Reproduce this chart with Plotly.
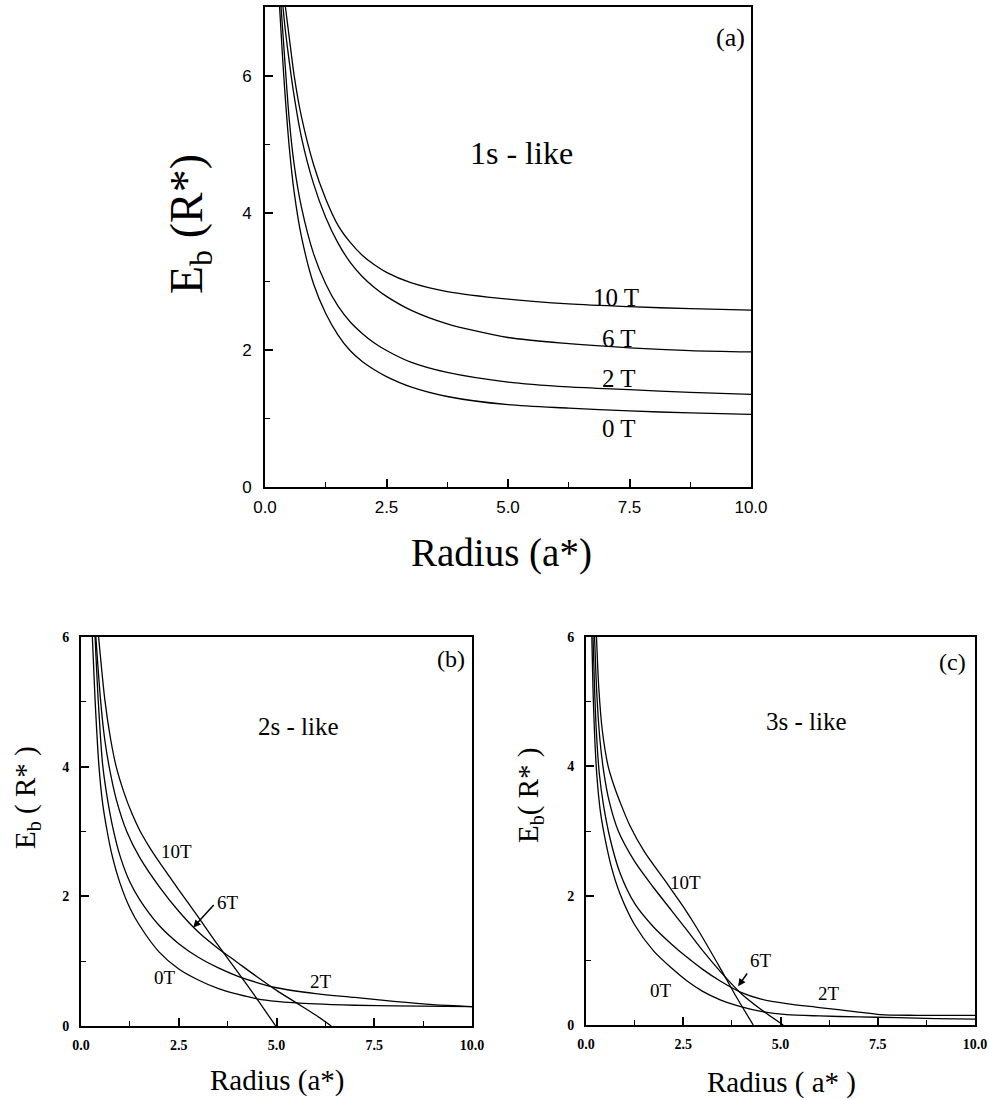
import plotly.graph_objects as go

# ---------------- Panel (a): 1s-like ----------------
a0_x = [0.3, 0.35, 0.4, 0.5, 0.6, 0.75, 1.0, 1.25, 1.5, 1.75, 2.0, 2.25, 2.5, 3.0, 3.75, 5.0, 6.25, 7.5, 8.75, 10.0]
a0_y = [7.0, 6.4, 5.85, 4.95, 4.3, 3.65, 2.96, 2.53, 2.22, 1.99, 1.83, 1.71, 1.61, 1.46, 1.32, 1.2, 1.15, 1.11, 1.08, 1.06]
a2_x = [0.33, 0.38, 0.44, 0.5, 0.6, 0.75, 1.0, 1.25, 1.5, 1.75, 2.0, 2.25, 2.5, 3.0, 3.75, 5.0, 6.25, 7.5, 8.75, 10.0]
a2_y = [7.0, 6.5, 5.9, 5.35, 4.7, 4.08, 3.4, 2.96, 2.64, 2.41, 2.24, 2.1, 1.99, 1.82, 1.67, 1.53, 1.46, 1.42, 1.38, 1.35]
a6_x = [0.37, 0.42, 0.5, 0.6, 0.75, 1.0, 1.25, 1.5, 1.75, 2.0, 2.25, 2.5, 3.0, 3.75, 5.0, 6.25, 7.5, 8.75, 10.0]
a6_y = [7.0, 6.65, 6.2, 5.7, 5.1, 4.42, 3.93, 3.56, 3.28, 3.07, 2.91, 2.78, 2.58, 2.38, 2.18, 2.09, 2.03, 1.99, 1.97]
a10_x = [0.42, 0.5, 0.6, 0.75, 1.0, 1.25, 1.5, 1.75, 2.0, 2.25, 2.5, 3.0, 3.75, 5.0, 6.25, 7.5, 8.75, 10.0]
a10_y = [7.0, 6.55, 6.0, 5.4, 4.7, 4.2, 3.82, 3.57, 3.38, 3.24, 3.13, 2.98, 2.85, 2.74, 2.67, 2.63, 2.6, 2.58]

# ---------------- Panel (b): 2s-like ----------------
b0_x = [0.29, 0.36, 0.46, 0.55, 0.67, 0.8, 1.0, 1.25, 1.5, 2.0, 2.5, 3.0, 3.5, 4.0, 4.5, 5.0, 6.0, 7.0, 8.0, 10.0]
b0_y = [6.0, 5.03, 4.0, 3.45, 3.0, 2.62, 2.2, 1.82, 1.55, 1.14, 0.88, 0.71, 0.58, 0.49, 0.42, 0.38, 0.34, 0.32, 0.31, 0.30]
b2_x = [0.36, 0.44, 0.55, 0.65, 0.8, 1.0, 1.25, 1.5, 2.0, 2.5, 3.0, 3.5, 4.0, 4.5, 5.0, 6.0, 7.0, 8.0, 9.0, 10.0]
b2_y = [6.0, 5.03, 4.05, 3.6, 3.1, 2.62, 2.22, 1.95, 1.55, 1.27, 1.06, 0.9, 0.77, 0.67, 0.59, 0.5, 0.44, 0.38, 0.33, 0.30]
b6_x = [0.38, 0.5, 0.6, 0.72, 0.9, 1.17, 1.5, 2.0, 2.5, 3.0, 3.5, 4.0, 4.5, 5.0, 5.5, 6.0, 6.4]
b6_y = [6.0, 5.03, 4.45, 4.0, 3.5, 3.0, 2.6, 2.15, 1.77, 1.45, 1.2, 0.98, 0.76, 0.55, 0.36, 0.17, 0.0]
b10_x = [0.45, 0.61, 0.75, 0.9, 1.1, 1.3, 1.5, 1.75, 2.0, 2.5, 3.0, 3.5, 4.0, 4.5, 4.98]
b10_y = [6.0, 5.03, 4.45, 4.0, 3.6, 3.28, 3.02, 2.76, 2.53, 2.1, 1.68, 1.25, 0.84, 0.42, 0.0]

# ---------------- Panel (c): 3s-like ----------------
c0_x = [0.15, 0.18, 0.22, 0.28, 0.37, 0.5, 0.65, 0.874, 1.25, 1.73, 2.2, 2.6, 3.0, 3.45, 4.0, 4.5, 5.16, 6.0, 7.0, 8.0, 9.0, 10.0]
c0_y = [6.0, 5.2, 4.5, 3.85, 3.3, 2.85, 2.45, 2.03, 1.55, 1.15, 0.88, 0.68, 0.52, 0.39, 0.28, 0.21, 0.16, 0.14, 0.125, 0.115, 0.1, 0.09]
c2_x = [0.18, 0.22, 0.27, 0.34, 0.45, 0.62, 0.874, 1.25, 1.73, 2.2, 2.59, 3.0, 3.45, 4.0, 4.5, 5.16, 6.0, 7.0, 7.56, 8.5, 10.0]
c2_y = [6.0, 5.2, 4.5, 3.9, 3.4, 2.88, 2.35, 1.88, 1.52, 1.25, 1.05, 0.86, 0.68, 0.5, 0.4, 0.33, 0.27, 0.2, 0.16, 0.15, 0.15]
c6_x = [0.22, 0.28, 0.36, 0.46, 0.6, 0.83, 1.25, 1.73, 2.2, 2.59, 3.0, 3.45, 4.0, 4.5, 5.07]
c6_y = [6.0, 5.1, 4.4, 3.9, 3.45, 3.0, 2.53, 2.13, 1.77, 1.47, 1.15, 0.83, 0.48, 0.24, 0.0]
c10_x = [0.27, 0.33, 0.42, 0.57, 0.72, 0.874, 1.13, 1.5, 2.07, 2.5, 2.85, 3.45, 3.84, 4.3]
c10_y = [6.0, 5.2, 4.55, 4.0, 3.7, 3.45, 3.08, 2.68, 2.2, 1.83, 1.5, 0.88, 0.46, 0.0]

x_ticks = [0, 2.5, 5, 7.5, 10]
x_ticktext = ["0.0", "2.5", "5.0", "7.5", "10.0"]
x_minor = [1.25, 3.75, 6.25, 8.75]
y_ticks = [0, 2, 4, 6]
y_ticktext = ["0", "2", "4", "6"]
y_minor = [1, 3, 5]

SERIF = "Liberation Serif, Times New Roman, serif"
SANS = "Liberation Sans, Arial, sans-serif"

FW, FH = 991, 1099

def px(x):
    return min(1.0, max(0.0, x / FW))

def py(y):
    return min(1.0, max(0.0, 1 - y / FH))

fig = go.Figure()

def add(x, y, xa, ya):
    fig.add_trace(go.Scatter(x=x, y=y, mode="lines", xaxis=xa, yaxis=ya,
                             line=dict(color="black", width=1.3, shape="spline", smoothing=0.8),
                             showlegend=False, hoverinfo="skip"))

for xs, ys in [(a0_x, a0_y), (a2_x, a2_y), (a6_x, a6_y), (a10_x, a10_y)]:
    add(xs, ys, "x", "y")
for xs, ys in [(b0_x, b0_y), (b2_x, b2_y), (b6_x, b6_y), (b10_x, b10_y)]:
    add(xs, ys, "x2", "y2")
for xs, ys in [(c0_x, c0_y), (c2_x, c2_y), (c6_x, c6_y), (c10_x, c10_y)]:
    add(xs, ys, "x3", "y3")

def xaxis(domain, anchor, font, standoff):
    return dict(domain=domain, anchor=anchor, range=[0, 10], showline=True, linewidth=2,
                linecolor="black", mirror=True, ticks="inside", ticklen=8, tickwidth=1.5,
                tickcolor="black", tickvals=x_ticks, ticktext=x_ticktext,
                minor=dict(tickvals=x_minor, ticks="inside", ticklen=5, tickwidth=1.2,
                           tickcolor="black", showgrid=False),
                showgrid=False, zeroline=False, tickfont=font, ticklabelstandoff=standoff,
                automargin=False)

def yaxis(domain, anchor, rng, font, standoff):
    return dict(domain=domain, anchor=anchor, range=rng, showline=True, linewidth=2,
                linecolor="black", mirror=True, ticks="inside", ticklen=8, tickwidth=1.5,
                tickcolor="black", tickvals=y_ticks, ticktext=y_ticktext,
                minor=dict(tickvals=y_minor, ticks="inside", ticklen=5, tickwidth=1.2,
                           tickcolor="black", showgrid=False),
                showgrid=False, zeroline=False, tickfont=font, ticklabelstandoff=standoff,
                automargin=False)

fa = dict(family=SANS, size=17, color="black")
fb = dict(family=SERIF, size=14, color="black", weight="bold")

fig.update_layout(
    width=FW, height=FH, margin=dict(l=0, r=0, t=0, b=0, autoexpand=False),
    paper_bgcolor="white", plot_bgcolor="white",
    xaxis=xaxis([px(265), px(751)], "y", fa, 4),
    yaxis=yaxis([py(487), py(7)], "x", [0, 7], fa, 8),
    xaxis2=xaxis([px(81), px(472)], "y2", fb, 5),
    yaxis2=yaxis([py(1026), py(637)], "x2", [0, 6], fb, 7),
    xaxis3=xaxis([px(586), px(975)], "y3", fb, 5),
    yaxis3=yaxis([py(1025), py(637)], "x3", [0, 6], fb, 7),
)

ann = []
def txt(text, x, y, xr, yr, size, **kw):
    ann.append(dict(text=text, x=x, y=y, xref=xr, yref=yr, showarrow=False,
                    xanchor="center", yanchor="middle",
                    font=dict(family=SERIF, size=size, color="black"), **kw))

# panel (a) texts
txt("1s - like", 5.28, 4.87, "x", "y", 32)
txt("(a)", 9.57, 6.55, "x", "y", 26)
txt("10 T", 7.22, 2.77, "x", "y", 25)
txt("6 T", 7.29, 2.17, "x", "y", 25)
txt("2 T", 7.29, 1.58, "x", "y", 25)
txt("0 T", 7.29, 0.85, "x", "y", 25)
txt("Radius (a*)", px(501), py(553), "paper", "paper", 39)
txt("E<sub>b</sub> (R*)", px(190), py(224), "paper", "paper", 46, textangle=-90)

# panel (b) texts
txt("2s - like", 5.57, 4.62, "x2", "y2", 25)
txt("(b)", 9.46, 5.66, "x2", "y2", 24)
txt("10T", 2.45, 2.69, "x2", "y2", 19)
txt("6T", 3.77, 1.90, "x2", "y2", 19)
txt("2T", 6.14, 0.68, "x2", "y2", 19)
txt("0T", 2.16, 0.75, "x2", "y2", 19)
txt("Radius (a*)", px(277), py(1080), "paper", "paper", 29)
txt("E<sub>b</sub> ( R* )", px(27), py(798), "paper", "paper", 29, textangle=-90)
ann.append(dict(text="", x=2.87, y=1.52, ax=3.43, ay=1.89, xref="x2", yref="y2",
                axref="x2", ayref="y2", showarrow=True, arrowhead=2, arrowsize=1,
                arrowwidth=1.5, arrowcolor="black"))

# panel (c) texts
txt("3s - like", 5.67, 4.69, "x3", "y3", 25)
txt("(c)", 9.42, 5.62, "x3", "y3", 24)
txt("10T", 2.55, 2.21, "x3", "y3", 19)
txt("6T", 4.5, 1.0, "x3", "y3", 19)
txt("2T", 6.25, 0.48, "x3", "y3", 19)
txt("0T", 1.92, 0.53, "x3", "y3", 19)
txt("Radius ( a* )", px(781), py(1082), "paper", "paper", 29)
txt("E<sub>b</sub>( R* )", px(530), py(795), "paper", "paper", 29, textangle=-90)
ann.append(dict(text="", x=3.91, y=0.6, ax=4.17, ay=0.82, xref="x3", yref="y3",
                axref="x3", ayref="y3", showarrow=True, arrowhead=2, arrowsize=1,
                arrowwidth=1.5, arrowcolor="black"))

fig.update_layout(annotations=ann)
# remove the default 8px page margin so the figure fills the window exactly
fig.write_html("out.html", config={"displayModeBar": False},
               post_script="document.body.style.margin='0px';document.body.style.overflow='hidden';")
